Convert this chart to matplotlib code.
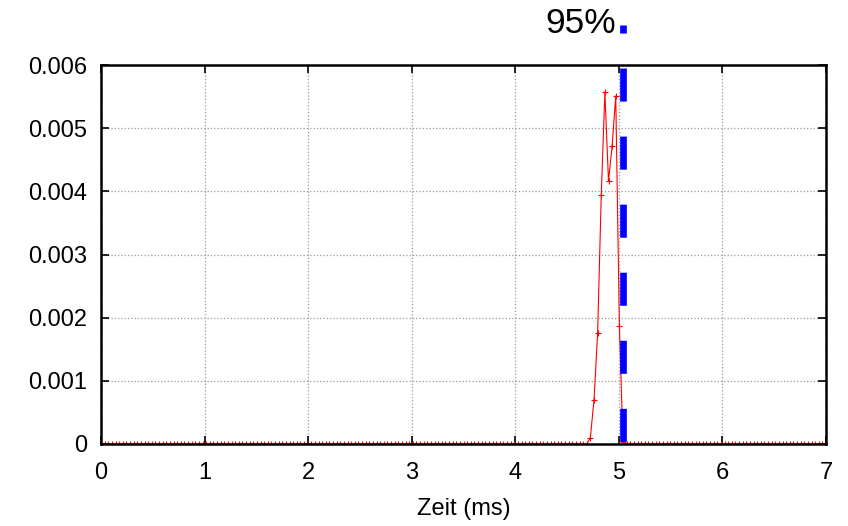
import matplotlib
matplotlib.use('Agg')
import matplotlib.pyplot as plt
import numpy as np

plt.rcParams['font.family'] = ['Liberation Sans', 'DejaVu Sans']

# sampling of the measured curve (ms), zeros outside the peak
step = 0.035
n_samples = 201
peak_start = 135
peak_values = [0.0001, 0.0007, 0.00175, 0.00394, 0.00557,
               0.00416, 0.00472, 0.00551, 0.00187, 0.00003]

p95_time = 5.04
p95_label = '95%'

x_ticks = [0, 1, 2, 3, 4, 5, 6, 7]
y_ticks = [0, 0.001, 0.002, 0.003, 0.004, 0.005, 0.006]
y_labels = ['0', '0.001', '0.002', '0.003', '0.004', '0.005', '0.006']

times = np.arange(n_samples) * step
values = np.zeros(n_samples)
values[peak_start:peak_start + len(peak_values)] = peak_values

fig = plt.figure(figsize=(8.48, 5.26), dpi=100)
ax = fig.add_axes([101 / 848, 82 / 526, 725 / 848, 379 / 526])

ax.plot(times, values, color='red', lw=0.8, marker='+', ms=5, mew=0.8)

# 95% marker line, reaching above the frame up to the label
lw95 = 4.8
ax.plot([p95_time, p95_time], [1.105, 0.0], transform=ax.get_xaxis_transform(),
        color='blue', lw=lw95, clip_on=False, solid_capstyle='butt',
        dash_capstyle='butt',
        linestyle=(18 / lw95, (23.8 / lw95, 25.2 / lw95)))
ax.text(p95_time - 0.07, 1.084, p95_label, transform=ax.get_xaxis_transform(),
        ha='right', va='baseline', fontsize=25.5)

ax.set_xlim(0, 7)
ax.set_ylim(0, 0.006)
ax.set_xticks(x_ticks)
ax.set_yticks(y_ticks)
ax.set_yticklabels(y_labels)
ax.tick_params(direction='in', top=True, right=True, length=6, width=1.2,
               labelsize=17)
ax.tick_params(axis='y', pad=10)
ax.tick_params(axis='x', pad=13)
ax.grid(True, color='#999999', linestyle=':', lw=0.9)
for s in ax.spines.values():
    s.set_linewidth(1.8)
ax.set_xlabel('Zeit (ms)', fontsize=17, labelpad=10)

fig.savefig('out.png', dpi=100)
